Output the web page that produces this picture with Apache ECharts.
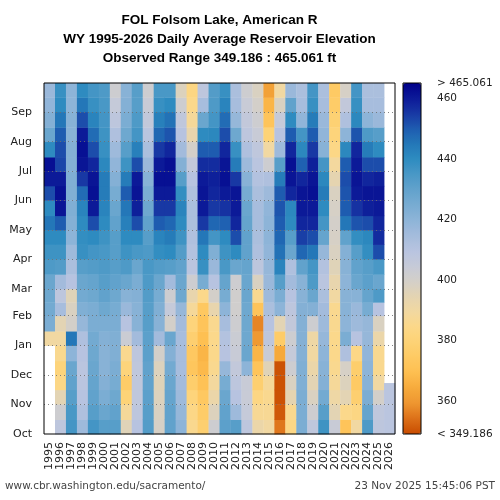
<!DOCTYPE html>
<html>
<head>
<meta charset="utf-8">
<script src="https://cdn.jsdelivr.net/npm/echarts@6/dist/echarts.min.js"></script>
<style>
html, body { margin: 0; padding: 0; background: #fff; }
#container { width: 500px; height: 500px; }
</style>
</head>
<body>
<div id="container"></div>
<script>
var years = ['1995','1996','1997','1998','1999','2000','2001','2002','2003','2004','2005','2006','2007','2008','2009','2010',
             '2011','2012','2013','2014','2015','2016','2017','2018','2019','2020','2021','2022','2023','2024','2025','2026'];
var monthNames = ['Oct','Nov','Dec','Jan','Feb','Mar','Apr','May','Jun','Jul','Aug','Sep'];
var monthStarts = [0, 31, 61, 92, 123, 151, 182, 212, 243, 273, 304, 335];
// half-month blocks, days counted from 1 Oct
var segBounds = [0,15,31,46,61,76,92,107,123,137,151,166,182,197,212,227,243,258,273,288,304,319,335,350,365];
var lastDay = 53; // latest reading of WY2026 (23 Nov)
var scaleMin = 349.186, scaleMax = 465.061;
var barTicks = [360, 380, 400, 420, 440, 460];

// elevation (ft), Oct -> Sep, two values per month
var wy1995 = [null,null,null,null,null,null,390,424,426,427,428,434,437,440,445,440,452,460,462,440,428,422,419,417];
var wy1996 = [408,402,395,384,381,386,390,395,414,408,415,433,437,440,450,461,462,460,453,452,450,445,440,438];
var wy1997 = [436,435,432,430,428,420,445,400,398,396,410,413,416,420,422,423,423,423,422,422,421,421,420,420];
var wy1998 = [416,412,410,409,409,410,412,418,423,426,428,432,438,439,440,442,447,455,461,462,460,452,445,440];
var wy1999 = [436,432,430,429,428,427,426,424,424,427,429,433,436,440,452,460,462,461,458,452,447,442,438,436];
var wy2000 = [432,428,424,422,421,421,422,424,427,430,432,434,435,437,440,442,444,444,441,438,437,436,435,434];
var wy2001 = [432,430,427,425,424,423,423,424,425,427,430,432,432,432,430,428,425,422,419,416,412,408,405,402];
var wy2002 = [396,388,380,376,381,386,403,410,417,421,428,434,437,440,443,445,450,444,437,432,427,424,422,421];
var wy2003 = [410,408,407,407,407,408,415,421,421,422,424,428,435,440,452,459,461,460,452,443,436,434,432,432];
var wy2004 = [433,432,431,430,430,431,431,432,432,433,434,435,434,432,430,427,424,421,417,413,409,406,404,402];
var wy2005 = [399,398,397,396,397,400,415,421,423,425,428,433,439,442,450,455,460,462,460,455,448,443,438,435];
var wy2006 = [430,430,429,428,426,422,428,400,405,402,415,432,440,444,448,455,460,462,462,458,451,446,440,435];
var wy2007 = [420,418,416,415,414,414,414,415,418,427,428,430,433,437,440,442,439,432,422,415,410,407,402,397];
var wy2008 = [386,384,381,377,373,374,378,381,388,393,402,409,411,412,413,413,412,410,406,400,393,388,385,383];
var wy2009 = [378,376,374,371,368,367,370,372,374,385,425,438,440,445,455,460,461,460,457,450,440,428,414,408];
var wy2010 = [402,397,392,389,386,385,385,386,393,400,410,417,423,436,448,455,458,459,457,450,441,436,434,433];
var wy2011 = [431,430,428,425,418,410,411,414,420,425,429,435,437,440,449,456,460,462,461,458,452,447,442,438];
var wy2012 = [432,416,410,408,406,404,403,402,401,401,402,428,440,452,458,460,461,455,444,438,427,418,414,413];
var wy2013 = [408,405,404,404,420,428,427,427,427,428,428,429,430,430,429,428,425,421,416,412,408,406,404,402];
var wy2014 = [392,387,383,378,372,367,360,357,372,386,398,408,412,413,414,414,413,411,409,407,404,402,400,398];
var wy2015 = [390,387,386,388,396,404,408,410,413,416,417,418,419,420,420,419,416,412,402,390,380,372,367,362];
var wy2016 = [355,351,350,350,350,364,376,395,420,424,432,442,446,448,450,451,450,444,432,416,410,405,398,390];
var wy2017 = [384,386,394,398,402,405,402,406,408,410,415,412,428,432,440,441,458,461,462,458,450,440,430,417];
var wy2018 = [424,424,424,423,423,422,422,422,422,421,421,430,448,454,458,460,461,458,449,441,436,419,414,413];
var wy2019 = [407,402,398,395,392,390,391,402,422,428,434,436,445,452,458,460,462,461,459,455,450,444,438,436];
var wy2020 = [437,432,426,422,421,420,418,416,415,413,409,411,418,429,436,440,444,441,436,421,419,417,414,413];
var wy2021 = [404,395,391,388,386,385,385,386,386,390,393,396,398,399,400,399,398,394,389,384,381,379,376,375];
var wy2022 = [372,385,395,397,399,412,424,420,421,421,420,421,422,430,445,450,451,452,450,441,420,412,406,399];
var wy2023 = [390,383,378,375,377,384,410,416,417,421,428,430,432,439,451,456,460,461,460,458,451,441,438,436];
var wy2024 = [434,429,424,421,420,419,418,418,425,429,431,432,439,441,452,459,461,458,452,444,434,420,414,413];
var wy2025 = [408,407,400,390,386,386,392,398,410,434,428,435,452,457,458,460,461,459,452,440,432,417,414,413];
var wy2026 = [409,409,409,409,null,null,null,null,null,null,null,null,null,null,null,null,null,null,null,null,null,null,null,null];

var yearData = [wy1995, wy1996, wy1997, wy1998, wy1999, wy2000, wy2001, wy2002, wy2003, wy2004, wy2005,
                wy2006, wy2007, wy2008, wy2009, wy2010, wy2011, wy2012, wy2013, wy2014, wy2015, wy2016,
                wy2017, wy2018, wy2019, wy2020, wy2021, wy2022, wy2023, wy2024, wy2025, wy2026];

var cells = [];
yearData.forEach(function (vals, i) {
    vals.forEach(function (v, k) {
        if (v == null) return;
        var lo = segBounds[k];
        var hi = segBounds[k + 1];
        if (i == yearData.length - 1) hi = Math.min(hi, lastDay);
        cells.push([i, lo, hi, v]);
    });
});

function renderCell(params, api) {
    var x = api.value(0);
    var p0 = api.coord([x, api.value(1)]);
    var p1 = api.coord([x, api.value(2)]);
    var w = api.size([1, 0])[0];
    return {
        type: 'rect',
        shape: { x: p0[0] - w / 2, y: p1[1], width: w + 0.4, height: p0[1] - p1[1] + 0.4 },
        style: { fill: api.visual('color') }
    };
}

var dom = document.getElementById('container');
var myChart = echarts.init(dom, null, { renderer: 'canvas' });

var option = {
    animation: false,
    backgroundColor: '#fff',
    grid: [
        { left: 44, top: 83, width: 351, height: 351, show: true, z: 10,
          backgroundColor: 'transparent', borderColor: '#000', borderWidth: 1 },
        { left: 403, top: 83, width: 18, height: 351, show: true, z: 10,
          backgroundColor: 'transparent', borderColor: '#000', borderWidth: 1 }
    ],
    xAxis: [
        {
            gridIndex: 0,
            type: 'category',
            data: years,
            axisLine: { show: false },
            axisTick: { alignWithLabel: true, interval: 0, length: 5, lineStyle: { color: '#000' } },
            axisLabel: { interval: 0, rotate: 90, margin: 8, fontSize: 11, fontFamily: 'DejaVu Sans', color: '#222' },
            splitLine: { show: false }
        },
        { gridIndex: 1, type: 'value', min: 0, max: 1, show: false }
    ],
    yAxis: [
        {
            gridIndex: 0,
            type: 'value',
            min: 0,
            max: 365,
            axisLine: { show: false },
            axisTick: { customValues: monthStarts, length: 5, lineStyle: { color: '#000' } },
            axisLabel: {
                customValues: monthStarts,
                margin: 12,
                fontSize: 11,
                fontFamily: 'DejaVu Sans',
                color: '#222',
                formatter: function (v) { return monthNames[monthStarts.indexOf(v)]; }
            },
            splitLine: { show: false }
        },
        {
            gridIndex: 1,
            type: 'value',
            position: 'right',
            min: scaleMin,
            max: scaleMax,
            axisLine: { show: false },
            axisTick: { customValues: barTicks, length: 5, lineStyle: { color: '#000' } },
            axisLabel: {
                customValues: [scaleMin].concat(barTicks, [scaleMax]),
                margin: 16,
                fontSize: 10.5,
                fontFamily: 'DejaVu Sans',
                color: '#222',
                formatter: function (v) {
                    if (v == scaleMin) return '< ' + scaleMin;
                    if (v == scaleMax) return '> ' + scaleMax;
                    return v;
                }
            },
            splitLine: { show: false }
        }
    ],
    visualMap: {
        type: 'continuous',
        seriesIndex: 0,
        dimension: 3,
        min: scaleMin,
        max: scaleMax,
        orient: 'vertical',
        left: 403,
        top: 83,
        itemWidth: 18,
        itemHeight: 351,
        padding: 0,
        calculable: false,
        hoverLink: false,
        inRange: {
            color: ['#c84c00','#dc7018','#ee9630','#f6aa3c','#febf50','#fec962','#fdd275','#fcd888',
                    '#f2d8a0','#e4d4b2','#d4d0c8','#c6cad8','#b8c4e0','#a4bcdc','#8eb4d8','#78acd2',
                    '#62a2cc','#4a98c6','#2e8cc0','#2478b8','#1e5cb0','#1838a4','#0c1a98','#00008a']
        }
    },
    graphic: [
        { type: 'text', x: 219.5, y: 20, style: { text: 'FOL Folsom Lake, American R', textAlign: 'center', textVerticalAlign: 'middle',
          font: 'bold 13.5px "Liberation Sans"', fill: '#000' } },
        { type: 'text', x: 219.5, y: 39, style: { text: 'WY 1995-2026 Daily Average Reservoir Elevation', textAlign: 'center', textVerticalAlign: 'middle',
          font: 'bold 13.5px "Liberation Sans"', fill: '#000' } },
        { type: 'text', x: 219.5, y: 58, style: { text: 'Observed Range 349.186 : 465.061 ft', textAlign: 'center', textVerticalAlign: 'middle',
          font: 'bold 13.5px "Liberation Sans"', fill: '#000' } },
        { type: 'text', x: 5, y: 486, style: { text: 'www.cbr.washington.edu/sacramento/', textAlign: 'left', textVerticalAlign: 'middle',
          font: '10.5px "DejaVu Sans"', fill: '#444' } },
        { type: 'text', x: 495, y: 486, style: { text: '23 Nov 2025 15:45:06 PST', textAlign: 'right', textVerticalAlign: 'middle',
          font: '10.5px "DejaVu Sans"', fill: '#444' } }
    ],
    series: [
        {
            name: 'Elevation',
            type: 'custom',
            xAxisIndex: 0,
            yAxisIndex: 0,
            renderItem: renderCell,
            encode: { x: 0, y: [1, 2] },
            data: cells,
            markLine: {
                silent: true,
                symbol: ['none', 'none'],
                label: { show: false },
                lineStyle: { type: [1, 3], color: 'rgba(110,110,110,0.85)', width: 1 },
                data: monthStarts.slice(1).map(function (d) { return { yAxis: d }; })
            }
        }
    ]
};

if (option && typeof option === "object") {
    myChart.setOption(option, true);
}
</script>
</body>
</html>
